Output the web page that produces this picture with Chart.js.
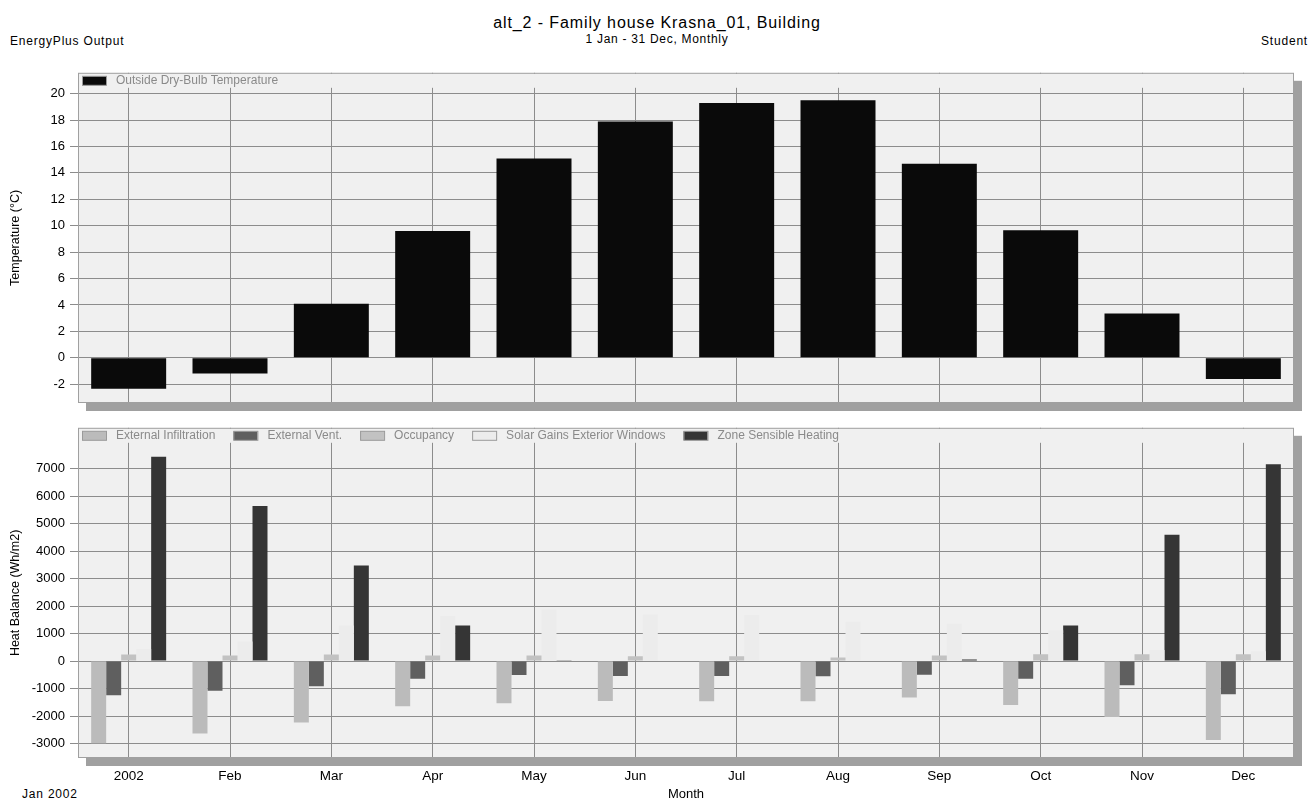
<!DOCTYPE html>
<html>
<head>
<meta charset="utf-8">
<script src="https://cdn.jsdelivr.net/npm/chart.js@4.4.1/dist/chart.umd.min.js"></script>
<style>
	body { margin: 0; background: #fff; font-family: 'Liberation Sans', Arial, sans-serif; }
	#page { position: relative; width: 1314px; height: 802px; overflow: hidden; }
	.txt { position: absolute; white-space: nowrap; color: #000; line-height: 1; }
	#topBox { position: absolute; left: 0; top: 60px; width: 1314px; height: 360px; }
	#bottomBox { position: absolute; left: 0; top: 415px; width: 1314px; height: 387px; }
</style>
</head>
<body>
<div id="page">
	<div class="txt" style="left:0;width:1314px;text-align:center;top:15px;font-size:16px;letter-spacing:0.9px;">alt_2 - Family house Krasna_01, Building</div>
	<div class="txt" style="left:0;width:1314px;text-align:center;top:33px;font-size:12px;letter-spacing:0.7px;">1 Jan - 31 Dec, Monthly</div>
	<div class="txt" style="left:10px;top:35px;font-size:12px;letter-spacing:0.8px;">EnergyPlus Output</div>
	<div class="txt" style="right:6px;top:35px;font-size:12px;letter-spacing:0.8px;">Student</div>
	<div class="txt" style="left:22px;top:788px;font-size:12px;letter-spacing:0.8px;">Jan 2002</div>
	<div id="topBox"><canvas id="tempChart"></canvas></div>
	<div id="bottomBox"><canvas id="heatChart"></canvas></div>
</div>
<script>
(() => {
	'use strict'

	// Month labels on the x axis
	const months = ['2002', 'Feb', 'Mar', 'Apr', 'May', 'Jun', 'Jul', 'Aug', 'Sep', 'Oct', 'Nov', 'Dec'];

	// Outside dry-bulb temperature (°C)
	const outsideTemp = [-2.35, -1.18, 4.1, 9.6, 15.1, 17.9, 19.3, 19.5, 14.7, 9.65, 3.35, -1.6];

	// Heat balance components (Wh/m2)
	const extInfiltration = [-2990, -2630, -2236, -1640, -1530, -1450, -1460, -1460, -1320, -1600, -2030, -2870];
	const extVent = [-1245, -1077, -910, -646, -502, -540, -545, -550, -500, -646, -875, -1210];
	const occupancy = [240, 205, 240, 205, 205, 180, 180, 130, 205, 250, 250, 250];
	const solarGains = [440, 718, 1295, 1640, 1877, 1700, 1675, 1435, 1364, 1125, 405, 360];
	const zoneHeating = [7440, 5640, 3480, 1300, 30, 20, 0, 0, 60, 1300, 4600, 7160];

	// Tick ranges shown on the y axes: [first, last, step]
	const tempTicks = [-2, 20, 2];
	const heatTicks = [-3000, 7000, 1000];

	Chart.defaults.font.family = "'Liberation Sans', Arial, sans-serif";
	Chart.defaults.font.size = 13;
	Chart.defaults.color = '#000';

	const gridColor = '#8c8c8c';
	const plotBg = '#f0f0f0';
	const legendText = '#8a8a8a';

	// Plot background, drop shadow, frame and in-plot legend
	const framePlugin = {
		id: 'frame',
		beforeDraw(chart) {
			const { ctx, chartArea: a } = chart;
			ctx.save();
			ctx.fillStyle = '#a0a0a0';
			ctx.fillRect(a.left + 8, a.top + 8, a.right - a.left, a.bottom - a.top);
			ctx.fillStyle = plotBg;
			ctx.fillRect(a.left, a.top, a.right - a.left, a.bottom - a.top);
			ctx.restore();
		},
		beforeDatasetsDraw(chart) {
			const { ctx, chartArea: a } = chart;
			ctx.save();
			// legend strip hides the tops of the month lines
			ctx.fillStyle = plotBg;
			ctx.fillRect(a.left + 1, a.top + 1, a.right - a.left - 2, 14);
			ctx.font = "12px 'Liberation Sans', Arial, sans-serif";
			ctx.textBaseline = 'middle';
			let x = a.left + 4;
			const y = a.top + 8;
			chart.data.datasets.forEach((ds) => {
				ctx.fillStyle = ds.backgroundColor;
				ctx.fillRect(x, y - 4.5, 24, 9);
				ctx.strokeStyle = '#9a9a9a';
				ctx.lineWidth = 1;
				ctx.strokeRect(x + 0.5, y - 4.5, 24, 9);
				ctx.fillStyle = legendText;
				ctx.fillText(ds.label, x + 34, y);
				x += 34 + ctx.measureText(ds.label).width + 18;
			});
			ctx.restore();
		},
		afterDraw(chart) {
			const { ctx, chartArea: a } = chart;
			ctx.save();
			ctx.strokeStyle = '#a0a0a0';
			ctx.lineWidth = 1;
			ctx.strokeRect(a.left + 0.5, a.top + 0.5, a.right - a.left - 1, a.bottom - a.top - 1);
			ctx.restore();
		}
	};

	function yAxis(title, min, max, range) {
		return {
			min: min,
			max: max,
			afterFit: (scale) => { scale.width = 78; },
			// ticks at whole steps only, not at the axis bounds
			afterBuildTicks: (scale) => {
				const ticks = [];
				for (let v = range[0]; v <= range[1]; v += range[2]) {
					ticks.push({ value: v });
				}
				scale.ticks = ticks;
			},
			border: { display: false },
			grid: { color: gridColor, tickLength: 8, tickColor: gridColor },
			ticks: { padding: 5, color: '#000', font: { size: 13 }, callback: (v) => String(v) },
			title: { display: true, text: title, color: '#000', font: { size: 12.5 }, padding: { top: 8, bottom: 0 } }
		};
	}

	/******************** Temperature Chart Start ********************/
	new Chart(document.getElementById('tempChart'), {
		type: 'bar',
		data: {
			labels: months,
			datasets: [{
				label: 'Outside Dry-Bulb Temperature',
				data: outsideTemp,
				backgroundColor: '#0a0a0a',
				categoryPercentage: 1,
				barPercentage: 0.74
			}]
		},
		options: {
			responsive: true,
			maintainAspectRatio: false,
			animation: false,
			layout: { padding: { top: 10, right: 20, bottom: 17, left: 0 } },
			plugins: { legend: { display: false }, tooltip: { enabled: false } },
			scales: {
				x: {
					offset: true,
					afterFit: (scale) => { scale.height = 0; },
					border: { display: false },
					grid: { offset: false, color: gridColor, drawTicks: false },
					ticks: { display: false }
				},
				y: yAxis('Temperature (°C)', -3.42, 21.58, tempTicks)
			}
		},
		plugins: [framePlugin]
	});
	/********************* Temperature Chart End *********************/

	/******************** Heat Balance Chart Start ********************/
	new Chart(document.getElementById('heatChart'), {
		type: 'bar',
		data: {
			labels: months,
			datasets: [
				{ label: 'External Infiltration', data: extInfiltration, backgroundColor: '#bbbbbb' },
				{ label: 'External Vent.', data: extVent, backgroundColor: '#5f5f5f' },
				{ label: 'Occupancy', data: occupancy, backgroundColor: '#c2c2c2' },
				{ label: 'Solar Gains Exterior Windows', data: solarGains, backgroundColor: '#ececec' },
				{ label: 'Zone Sensible Heating', data: zoneHeating, backgroundColor: '#353535' }
			].map((d) => Object.assign(d, { categoryPercentage: 0.74, barPercentage: 1 }))
		},
		options: {
			responsive: true,
			maintainAspectRatio: false,
			animation: false,
			layout: { padding: { top: 9, right: 20, bottom: 0, left: 0 } },
			plugins: { legend: { display: false }, tooltip: { enabled: false } },
			scales: {
				x: {
					offset: true,
					afterFit: (scale) => { scale.height = 44; },
					border: { display: false },
					grid: { offset: false, color: gridColor, drawTicks: false },
					ticks: { padding: 10, color: '#000', font: { size: 13.5 } },
					title: { display: true, text: 'Month', color: '#000', font: { size: 13 }, padding: 0 }
				},
				y: yAxis('Heat Balance (Wh/m2)', -3525, 8489, heatTicks)
			}
		},
		plugins: [framePlugin]
	});
	/********************* Heat Balance Chart End *********************/
})()
</script>
</body>
</html>
